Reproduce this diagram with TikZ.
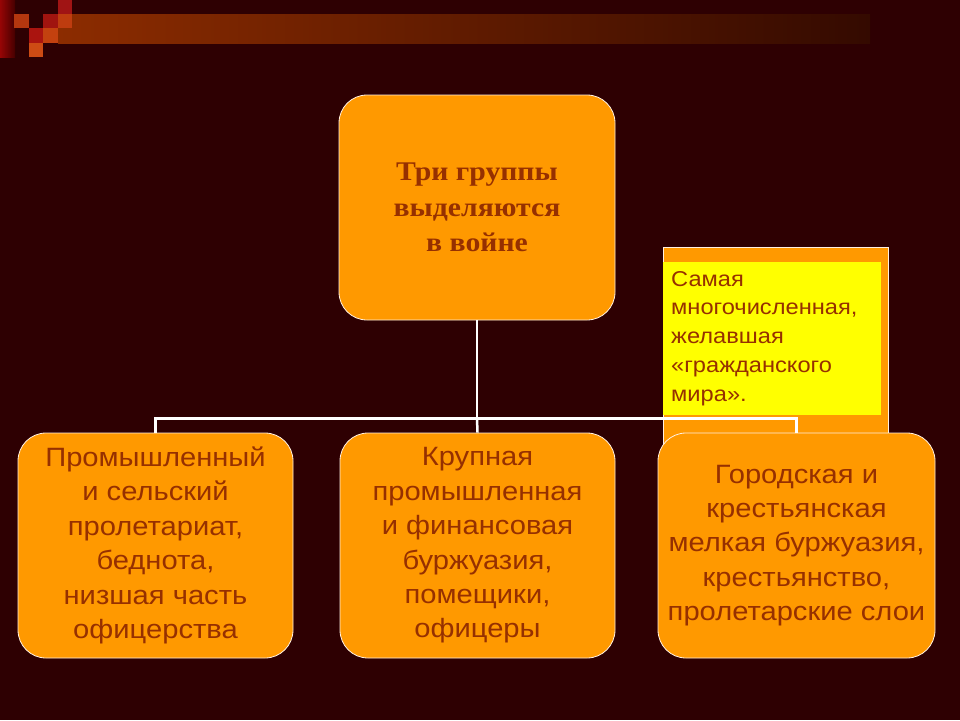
\documentclass[tikz,border=0pt]{standalone}
\usepackage{fontspec}
\setmainfont[FakeStretch=1.1]{Liberation Serif}
\newfontfamily\arialf[FakeStretch=1.1]{Liberation Sans}
\definecolor{bgc}{RGB}{46,0,2}
\definecolor{boxor}{RGB}{255,153,0}
\definecolor{yel}{RGB}{255,255,0}
\definecolor{txtbr}{RGB}{150,48,0}
\definecolor{rimc}{RGB}{255,240,225}
\definecolor{barL}{RGB}{140,44,0}
\definecolor{barR}{RGB}{52,10,0}
\definecolor{stripL}{RGB}{150,5,5}
\definecolor{stripR}{RGB}{70,0,0}
\definecolor{sqA}{RGB}{180,55,15}
\definecolor{sqB}{RGB}{160,20,15}
\definecolor{sqC}{RGB}{160,20,20}
\definecolor{sqD}{RGB}{190,60,15}
\definecolor{sqE}{RGB}{170,20,15}
\definecolor{sqF}{RGB}{195,65,15}
\definecolor{sqG}{RGB}{205,75,20}
\begin{document}
\begin{tikzpicture}[x=1pt,y=-1pt,
  orbox/.style={draw=rimc, line width=0.8pt, fill=boxor, rounded corners=28pt,
    inner sep=0pt, align=center, text=txtbr},
  lowbox/.style={orbox, minimum width=275pt, minimum height=225pt,
    font=\arialf\fontsize{26.5}{34.4}\selectfont},
  conn/.style={draw=white, line width=2.5pt}
]
\useasboundingbox (0,0) rectangle (960,720);
\fill[bgc] (0,0) rectangle (960,720);
% top-left decoration
\shade[left color=barL, right color=barR] (58,14) rectangle (870,43);
\shade[left color=stripL, right color=stripR] (0,0) rectangle (15,57);
\fill[sqA] (14,14) rectangle (29,28);
\fill[sqB] (43,14) rectangle (58,28);
\fill[sqC] (58,0) rectangle (72,14);
\fill[sqD] (58,14) rectangle (72,28);
\fill[sqE] (29,28) rectangle (43,43);
\fill[sqF] (43,28) rectangle (58,43);
\fill[sqG] (29,43) rectangle (43,57);
% callout
\node[draw=rimc, line width=0.8pt, fill=boxor, minimum width=225pt, minimum height=203pt, inner sep=0pt] (callout) at (775.5,348.5) {};
\node[fill=yel, minimum width=218pt, minimum height=153pt, inner sep=0pt] (calloutin) at (772,338.5) {};
\node[anchor=north west, inner sep=0pt, align=left, text=txtbr,
  font=\arialf\fontsize{21.5}{28.7}\selectfont] (callouttxt) at (671,271)
  {Самая\\многочисленная,\\желавшая\\«гражданского\\мира».};
% top box
\node[orbox, minimum width=276pt, minimum height=225pt,
  font=\bfseries\fontsize{27}{35.5}\selectfont] (top) at (477,207.5)
  {\raisebox{-9pt}{\parbox{250pt}{\centering Три группы\\выделяются\\в войне}}};
% bottom boxes
\node[lowbox] (left) at (155.5,545.5)
  {Промышленный\\и сельский\\пролетариат,\\беднота,\\низшая часть\\офицерства};
\node[lowbox] (mid) at (477.5,545.5)
  {Крупная\\промышленная\\и финансовая\\буржуазия,\\помещики,\\офицеры};
\node[lowbox, minimum width=277pt] (right) at (796.5,545.5)
  {\raisebox{-2pt}{\parbox{270pt}{\centering Городская и\\крестьянская\\мелкая буржуазия,\\крестьянство,\\пролетарские слои}}};
% connectors
\draw[conn] (top.south) -- ++(0,98) coordinate (j);
\draw[conn] (left.north) |- (j);
\draw[conn] (j) -| (right.north);
\draw[conn] (j) -- (mid.north);
\end{tikzpicture}
\end{document}
